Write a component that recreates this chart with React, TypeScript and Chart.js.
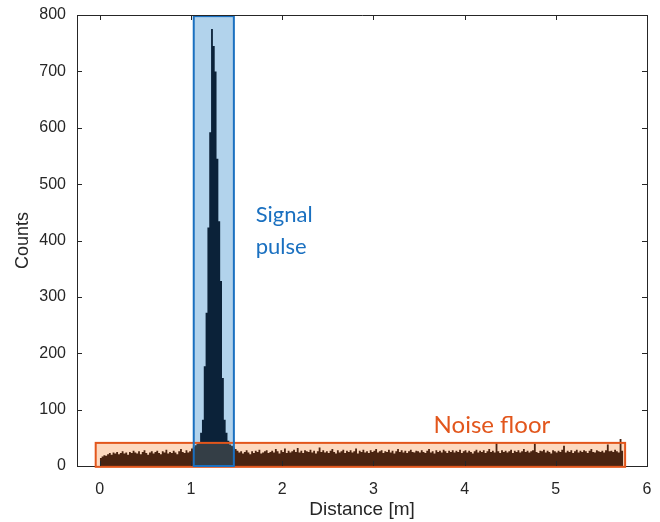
import { useEffect, useRef } from 'react';
import { Chart, registerables } from 'chart.js';

Chart.register(...registerables);

// ---------- data ----------
const BIN_WIDTH = 0.02; // m
const HIST_START = 0; // m

const noiseLeft = [
  14, 17, 19, 18, 21, 23, 20, 24, 22, 25,
  21, 23, 26, 22, 24, 20, 25, 23, 27, 24,
  22, 26, 21, 25, 28, 23, 20, 24, 26, 22,
  25, 27, 23, 21, 26, 24, 29, 22, 25, 23,
  27, 24, 21, 26, 30, 25, 23, 28, 24, 26,
  31,
];
const noiseNearPulseLeft = [34, 37, 39];
const pulseCounts = [41, 59, 82, 177, 272, 423, 592, 775, 745, 700, 545, 434, 328, 156, 82, 59, 45, 38];
const noiseNearPulseRight = [36, 33];
const noiseRight = [
  30, 27, 24, 26, 22, 25, 28, 24, 21, 26, 23, 27, 25, 29, 22, 24, 26, 28, 23, 25,
  27, 24, 30, 26, 22, 28, 25, 31, 23, 27, 24, 26, 29, 25, 32, 24, 27, 23, 28, 26,
  25, 29, 24, 27, 22, 26, 33, 25, 28, 24, 26, 23, 27, 30, 25, 22, 28, 24, 26, 29,
  23, 27, 25, 28, 24, 26, 31, 22, 27, 25, 29, 24, 26, 23, 28, 25, 27, 30, 24, 26,
  28, 23, 26, 25, 29, 24, 27, 22, 26, 30, 25, 28, 24, 27, 23, 26, 29, 25, 24, 27,
  26, 24, 28, 25, 23, 27, 30, 24, 26, 22, 28, 25, 27, 24, 29, 26, 23, 27, 25, 28,
  24, 27, 25, 29, 23, 26, 28, 24, 27, 25, 22, 26, 29, 24, 27, 25, 28, 23, 26, 30,
  25, 27, 24, 41, 26, 23, 28, 25, 27, 24, 26, 29, 23, 27, 25, 28, 24, 26, 30, 25,
  27, 24, 26, 28, 40, 25, 23, 27, 26, 29, 24, 27, 25, 22, 28, 26, 24, 27, 25, 29,
  36, 24, 27, 25, 28, 23, 26, 29, 24, 27, 25, 28, 26, 23, 27, 30, 25, 24, 28, 26,
  25, 27, 24, 28, 38, 26, 27, 25, 29, 26, 24, 48, 27,
];

const xTicks = [0, 1, 2, 3, 4, 5, 6];
const yTicks = [0, 100, 200, 300, 400, 500, 600, 700, 800];
const X_MIN = -0.25;
const X_MAX = 6;
const Y_MIN = 0;
const Y_MAX = 800;

const signalBox = { x0: 1.03, x1: 1.47, y0: 0, y1: 798 };
const noiseBox = { x0: -0.045, x1: 5.76, y0: -1.5, y1: 41 };
const signalLabel = { x: 1.71, y: 433, lines: ['Signal', 'pulse'] };
const noiseLabel = { x: 3.66, y: 58, text: 'Noise floor' };

// ---------- styles ----------
const AXIS_FONT = '"Liberation Sans", Arial, sans-serif';
const NOTE_FONT = 'Lato, "Noto Sans", sans-serif';
const AXIS_COLOR = '#262626';
const BROWN = '#4a2411';
const NAVY = '#0b2239';
const GREY = '#343e46';
const PEACH = '#fdd9bf';
const LIGHT_BLUE = '#b2d3ec';
const ORANGE = '#e2561c';
const BLUE = '#1a70c0';

const counts = [...noiseLeft, ...noiseNearPulseLeft, ...pulseCounts, ...noiseNearPulseRight, ...noiseRight];
const points = counts.map((c, i) => ({ x: HIST_START + i * BIN_WIDTH, y: c }));
points.push({ x: HIST_START + counts.length * BIN_WIDTH, y: 0 });

const boxRect = (x: any, y: any, b: { x0: number; x1: number; y0: number; y1: number }) => {
  const l = x.getPixelForValue(b.x0);
  const r = x.getPixelForValue(b.x1);
  const t = y.getPixelForValue(b.y1);
  const bt = y.getPixelForValue(b.y0);
  return [l, t, r - l, bt - t] as [number, number, number, number];
};

const boxesPlugin = {
  id: 'boxes',
  afterDatasetsDraw(chart: any) {
    const { ctx, chartArea, scales } = chart;
    const x = scales.x, y = scales.y;
    const sb = boxRect(x, y, signalBox);
    const nb = boxRect(x, y, noiseBox);
    const ys = y.getPixelForValue(noiseBox.y1);
    const y0 = y.getPixelForValue(0);
    ctx.save();
    // recolour the histogram inside the signal box
    ctx.globalCompositeOperation = 'source-atop';
    ctx.fillStyle = NAVY;
    ctx.fillRect(sb[0], chartArea.top - 2, sb[2], ys - chartArea.top + 2);
    ctx.fillStyle = GREY;
    ctx.fillRect(sb[0], ys, sb[2], y0 - ys);
    // box fills behind everything
    ctx.globalCompositeOperation = 'destination-over';
    ctx.fillStyle = LIGHT_BLUE;
    ctx.fillRect(...sb);
    ctx.fillStyle = PEACH;
    ctx.fillRect(...nb);
    ctx.globalCompositeOperation = 'source-over';
    // box borders
    ctx.lineWidth = 2;
    ctx.strokeStyle = ORANGE;
    ctx.strokeRect(...nb);
    ctx.strokeStyle = BLUE;
    ctx.strokeRect(...sb);
    // axes box (top & right)
    ctx.lineWidth = 1;
    ctx.strokeStyle = AXIS_COLOR;
    ctx.beginPath();
    ctx.moveTo(chartArea.left, chartArea.top + 0.5);
    ctx.lineTo(chartArea.right + 0.5, chartArea.top + 0.5);
    ctx.lineTo(chartArea.right + 0.5, chartArea.bottom);
    ctx.stroke();
    // inward ticks on all four sides
    const TL = 5;
    ctx.beginPath();
    xTicks.forEach((v) => {
      const px = Math.round(x.getPixelForValue(v)) + 0.5;
      ctx.moveTo(px, chartArea.bottom);
      ctx.lineTo(px, chartArea.bottom - TL);
      ctx.moveTo(px, chartArea.top);
      ctx.lineTo(px, chartArea.top + TL);
    });
    yTicks.forEach((v) => {
      const py = Math.round(y.getPixelForValue(v)) + 0.5;
      ctx.moveTo(chartArea.left, py);
      ctx.lineTo(chartArea.left + TL, py);
      ctx.moveTo(chartArea.right, py);
      ctx.lineTo(chartArea.right - TL, py);
    });
    ctx.stroke();
    // annotations
    ctx.textBaseline = 'alphabetic';
    ctx.textAlign = 'left';
    ctx.font = `22px ${NOTE_FONT}`;
    ctx.fillStyle = BLUE;
    const sx = x.getPixelForValue(signalLabel.x);
    const sy = y.getPixelForValue(signalLabel.y);
    signalLabel.lines.forEach((t, i) => ctx.fillText(t, sx, sy + i * 32));
    ctx.font = `24px ${NOTE_FONT}`;
    ctx.fillStyle = ORANGE;
    ctx.fillText(noiseLabel.text, x.getPixelForValue(noiseLabel.x), y.getPixelForValue(noiseLabel.y));
    ctx.restore();
  },
};

export default function App() {
  const ref = useRef<HTMLCanvasElement | null>(null);
  useEffect(() => {
    if (!ref.current) return;
    const chart = new Chart(ref.current, {
      type: 'line',
      data: {
        datasets: [
          {
            data: points,
            stepped: true,
            fill: 'origin',
            backgroundColor: BROWN,
            borderColor: 'rgba(0,0,0,0)',
            borderWidth: 0,
            pointRadius: 0,
            tension: 0,
          },
        ] as any,
      },
      options: {
        animation: false,
        responsive: true,
        maintainAspectRatio: false,
        events: [],
        layout: { padding: { left: 0, top: 15, right: 13, bottom: 0 } },
        plugins: { legend: { display: false }, tooltip: { enabled: false } },
        scales: {
          x: {
            type: 'linear',
            min: X_MIN,
            max: X_MAX,
            afterBuildTicks: (s: any) => { s.ticks = xTicks.map((v) => ({ value: v })); },
            afterFit: (s: any) => { s.height = 56; s.paddingLeft = 0; s.paddingRight = 0; },
            ticks: { padding: 14, color: AXIS_COLOR, font: { family: AXIS_FONT, size: 16 }, maxRotation: 0, autoSkip: false },
            grid: { display: false, drawTicks: false, tickLength: 0 },
            border: { display: true, color: AXIS_COLOR, width: 1 },
            title: { display: true, text: 'Distance [m]', color: AXIS_COLOR, font: { family: AXIS_FONT, size: 19 }, padding: { top: 0, bottom: 1 } },
          },
          y: {
            type: 'linear',
            min: Y_MIN,
            max: Y_MAX,
            afterBuildTicks: (s: any) => { s.ticks = yTicks.map((v) => ({ value: v })); },
            afterFit: (s: any) => { s.width = 77; s.paddingTop = 0; s.paddingBottom = 0; },
            ticks: { padding: 11, color: AXIS_COLOR, font: { family: AXIS_FONT, size: 16 } },
            grid: { display: false, drawTicks: false, tickLength: 0 },
            border: { display: true, color: AXIS_COLOR, width: 1 },
            title: { display: true, text: 'Counts', color: AXIS_COLOR, font: { family: AXIS_FONT, size: 18 }, padding: { top: 12, bottom: 0 } },
          },
        },
      } as any,
      plugins: [boxesPlugin],
    });
    return () => chart.destroy();
  }, []);
  return (
    <div style={{ position: 'fixed', left: 0, top: 0, width: 660, height: 522, background: '#fff' }}>
      <canvas ref={ref} />
    </div>
  );
}
